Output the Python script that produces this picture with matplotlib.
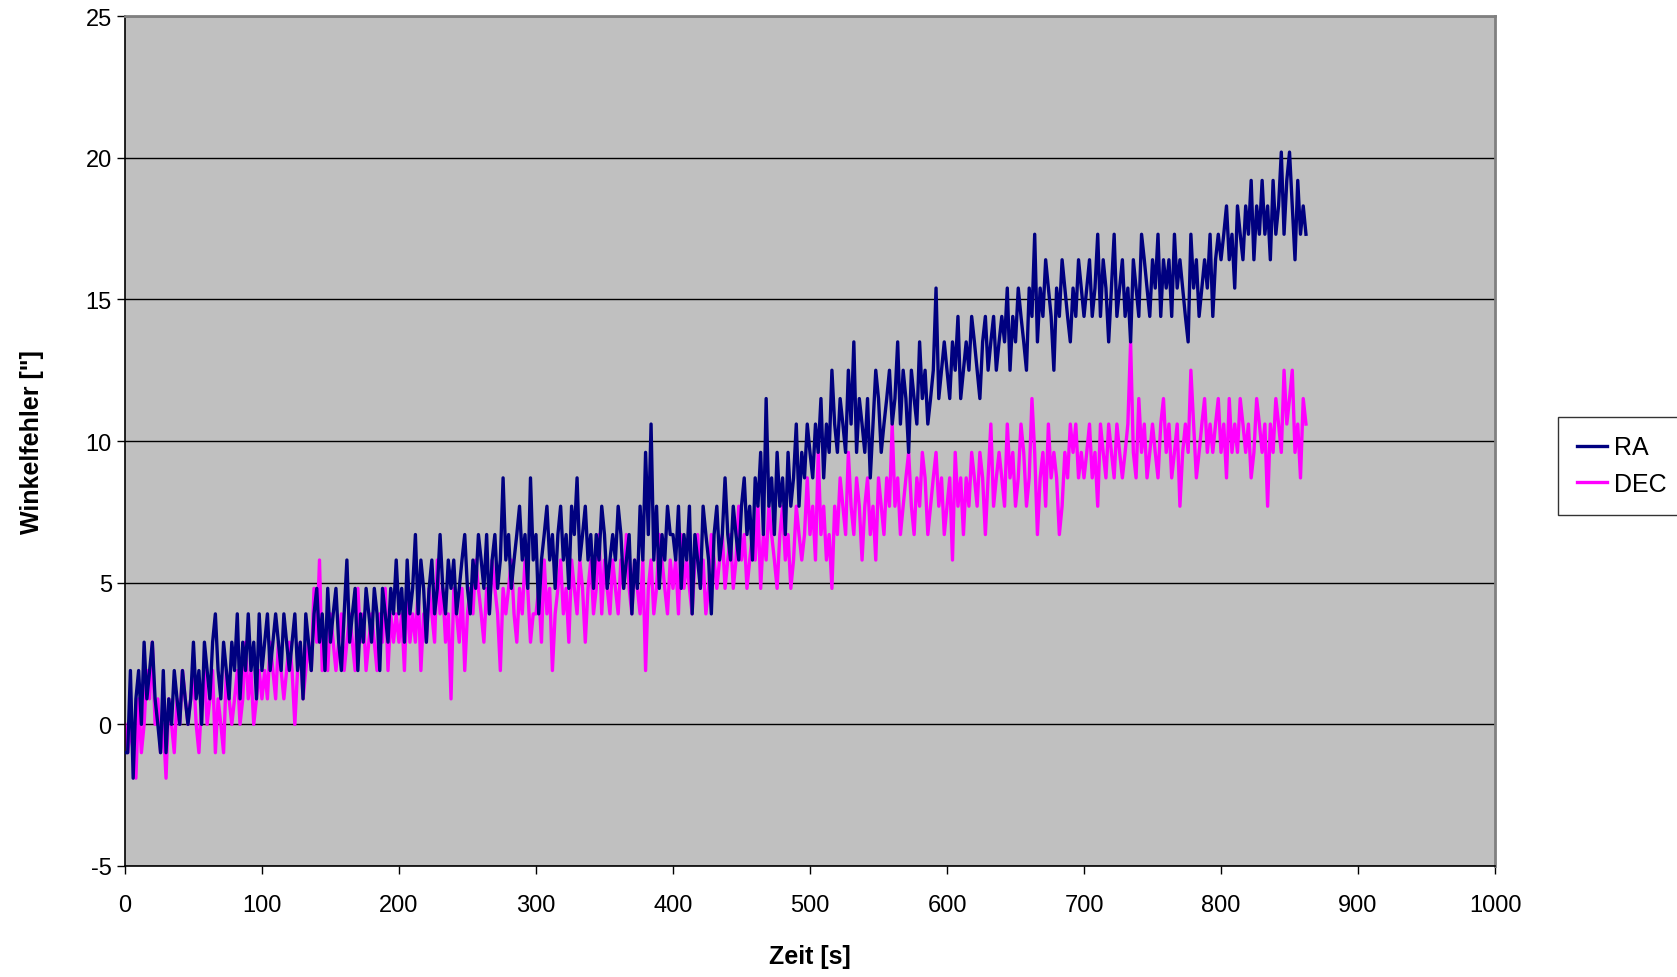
import numpy as np
import matplotlib.pyplot as plt

zeit = np.arange(0, 863, 2)

# RA winkelfehler ["], je 100 s ein block
ra_000 = [-1.0, -1.0, 1.9, -1.9, 0.9, 1.9, 0.0, 2.9, 0.9, 1.9,
          2.9, 0.9, 0.0, -1.0, 1.9, -1.0, 0.9, 0.0, 1.9, 0.9,
          0.0, 1.9, 0.9, 0.0, 0.9, 2.9, 0.9, 1.9, 0.0, 2.9,
          1.9, 0.9, 2.9, 3.9, 1.9, 0.9, 2.9, 1.9, 0.9, 2.9,
          1.9, 3.9, 0.9, 2.9, 1.9, 3.9, 1.9, 2.9, 0.9, 3.9]
ra_100 = [1.9, 2.9, 3.9, 1.9, 2.9, 3.9, 2.9, 1.9, 3.9, 2.9,
          1.9, 2.9, 3.9, 1.9, 2.9, 0.9, 3.9, 2.9, 1.9, 3.9,
          4.8, 2.9, 3.9, 1.9, 4.8, 2.9, 3.9, 4.8, 2.9, 1.9,
          3.9, 5.8, 2.9, 3.9, 4.8, 1.9, 3.9, 2.9, 4.8, 3.9,
          2.9, 4.8, 3.9, 1.9, 4.8, 3.9, 2.9, 4.8, 3.9, 5.8]
ra_200 = [3.9, 4.8, 2.9, 5.8, 3.9, 4.8, 6.7, 3.9, 5.8, 4.8,
          2.9, 4.8, 5.8, 3.9, 4.8, 6.7, 4.8, 3.9, 5.8, 4.8,
          5.8, 3.9, 4.8, 5.8, 6.7, 4.8, 3.9, 5.8, 4.8, 6.7,
          5.8, 4.8, 6.7, 3.9, 5.8, 6.7, 4.8, 5.8, 8.7, 5.8,
          6.7, 4.8, 5.8, 6.7, 7.7, 5.8, 6.7, 4.8, 8.7, 5.8]
ra_300 = [6.7, 3.9, 5.8, 6.7, 7.7, 5.8, 6.7, 4.8, 6.7, 7.7,
          5.8, 6.7, 4.8, 7.7, 6.7, 8.7, 5.8, 6.7, 7.7, 5.8,
          6.7, 4.8, 6.7, 5.8, 7.7, 6.7, 4.8, 5.8, 6.7, 5.8,
          7.7, 6.7, 4.8, 5.8, 6.7, 3.9, 5.8, 4.8, 7.7, 5.8,
          9.6, 6.7, 10.6, 5.8, 7.7, 4.8, 6.7, 5.8, 7.7, 6.7]
ra_400 = [6.7, 5.8, 7.7, 4.8, 6.7, 5.8, 7.7, 3.9, 6.7, 5.8,
          4.8, 7.7, 6.7, 5.8, 3.9, 6.7, 7.7, 5.8, 6.7, 8.7,
          6.7, 5.8, 7.7, 6.7, 5.8, 7.7, 8.7, 6.7, 7.7, 5.8,
          8.7, 7.7, 9.6, 6.7, 11.5, 7.7, 8.7, 6.7, 9.6, 7.7,
          8.7, 6.7, 9.6, 7.7, 8.7, 10.6, 7.7, 9.6, 8.7, 10.6]
ra_500 = [9.6, 8.7, 10.6, 9.6, 11.5, 8.7, 10.6, 9.6, 12.5, 10.6,
          9.6, 11.5, 10.6, 9.6, 12.5, 10.6, 13.5, 9.6, 11.5, 10.6,
          9.6, 11.5, 8.7, 10.6, 12.5, 11.5, 9.6, 10.6, 11.5, 12.5,
          10.6, 11.5, 13.5, 10.6, 12.5, 11.5, 9.6, 12.5, 11.5, 10.6,
          13.5, 11.5, 12.5, 10.6, 11.5, 12.5, 15.4, 11.5, 12.5, 13.5]
ra_600 = [12.5, 11.5, 13.5, 12.5, 14.4, 11.5, 12.5, 13.5, 12.5, 14.4,
          13.5, 12.5, 11.5, 13.5, 14.4, 12.5, 13.5, 14.4, 12.5, 13.5,
          14.4, 13.5, 15.4, 12.5, 14.4, 13.5, 15.4, 14.4, 13.5, 12.5,
          15.4, 14.4, 17.3, 13.5, 15.4, 14.4, 16.4, 15.4, 14.4, 12.5,
          15.4, 14.4, 16.4, 15.4, 14.4, 13.5, 15.4, 14.4, 16.4, 15.4]
ra_700 = [14.4, 15.4, 16.4, 14.4, 15.4, 17.3, 14.4, 16.4, 15.4, 13.5,
          15.4, 17.3, 14.4, 15.4, 16.4, 14.4, 15.4, 13.5, 16.4, 15.4,
          14.4, 17.3, 16.4, 15.4, 14.4, 16.4, 15.4, 17.3, 14.4, 16.4,
          15.4, 16.4, 14.4, 17.3, 15.4, 16.4, 15.4, 14.4, 13.5, 17.3,
          15.4, 16.4, 14.4, 15.4, 16.4, 15.4, 17.3, 14.4, 16.4, 17.3]
ra_800 = [16.4, 17.3, 18.3, 16.4, 17.3, 15.4, 18.3, 17.3, 16.4, 18.3,
          17.3, 19.2, 16.4, 18.3, 17.3, 19.2, 17.3, 18.3, 16.4, 19.2,
          17.3, 18.3, 20.2, 17.3, 19.2, 20.2, 18.3, 16.4, 19.2, 17.3,
          18.3, 17.3]

# DEC winkelfehler ["]
dec_000 = [0.0, -1.0, 0.0, -1.0, -1.9, 0.9, -1.0, 0.0, 1.9, 0.9,
           2.9, 0.0, 0.9, -1.0, 0.0, -1.9, 0.9, 0.0, -1.0, 0.9,
           0.0, 1.9, 0.9, 0.0, 0.9, 1.9, 0.0, -1.0, 0.9, 1.9,
           0.0, 0.9, 1.9, -1.0, 0.9, 0.0, -1.0, 1.9, 0.9, 0.0,
           0.9, 1.9, 0.0, 0.9, 2.9, 0.9, 1.9, 0.0, 0.9, 1.9]
dec_100 = [0.9, 1.9, 0.9, 2.9, 1.9, 0.9, 2.9, 1.9, 0.9, 1.9,
           2.9, 1.9, 0.0, 1.9, 2.9, 0.9, 1.9, 2.9, 1.9, 4.8,
           2.9, 5.8, 1.9, 2.9, 1.9, 3.9, 2.9, 1.9, 2.9, 3.9,
           1.9, 2.9, 3.9, 2.9, 1.9, 4.8, 2.9, 3.9, 1.9, 2.9,
           3.9, 2.9, 1.9, 3.9, 2.9, 4.8, 1.9, 3.9, 2.9, 3.9]
dec_200 = [2.9, 3.9, 1.9, 4.8, 2.9, 3.9, 2.9, 4.8, 1.9, 3.9,
           2.9, 4.8, 3.9, 2.9, 5.8, 3.9, 4.8, 2.9, 3.9, 0.9,
           4.8, 3.9, 2.9, 4.8, 1.9, 3.9, 4.8, 3.9, 5.8, 4.8,
           3.9, 2.9, 4.8, 3.9, 5.8, 4.8, 3.9, 1.9, 4.8, 3.9,
           4.8, 5.8, 3.9, 2.9, 4.8, 3.9, 5.8, 4.8, 2.9, 3.9]
dec_300 = [3.9, 4.8, 2.9, 5.8, 3.9, 4.8, 1.9, 3.9, 4.8, 5.8,
           3.9, 4.8, 2.9, 5.8, 4.8, 3.9, 5.8, 4.8, 2.9, 4.8,
           5.8, 3.9, 4.8, 6.7, 3.9, 5.8, 4.8, 3.9, 5.8, 4.8,
           3.9, 5.8, 4.8, 6.7, 4.8, 3.9, 5.8, 4.8, 3.9, 5.8,
           1.9, 4.8, 5.8, 3.9, 4.8, 6.7, 5.8, 4.8, 3.9, 5.8]
dec_400 = [4.8, 5.8, 3.9, 6.7, 4.8, 5.8, 4.8, 3.9, 5.8, 6.7,
           4.8, 5.8, 3.9, 4.8, 6.7, 5.8, 4.8, 5.8, 6.7, 4.8,
           5.8, 6.7, 4.8, 5.8, 7.7, 5.8, 6.7, 4.8, 5.8, 6.7,
           5.8, 7.7, 4.8, 6.7, 5.8, 7.7, 6.7, 5.8, 4.8, 6.7,
           7.7, 5.8, 6.7, 4.8, 5.8, 7.7, 6.7, 5.8, 6.7, 8.7]
dec_500 = [6.7, 7.7, 5.8, 9.6, 6.7, 7.7, 5.8, 6.7, 4.8, 7.7,
           6.7, 8.7, 7.7, 6.7, 9.6, 7.7, 6.7, 8.7, 7.7, 5.8,
           7.7, 8.7, 6.7, 7.7, 5.8, 8.7, 7.7, 6.7, 8.7, 7.7,
           10.6, 7.7, 8.7, 6.7, 7.7, 8.7, 9.6, 7.7, 6.7, 8.7,
           7.7, 9.6, 8.7, 6.7, 7.7, 8.7, 9.6, 7.7, 8.7, 6.7]
dec_600 = [7.7, 8.7, 5.8, 9.6, 7.7, 8.7, 6.7, 8.7, 7.7, 9.6,
           8.7, 7.7, 9.6, 8.7, 6.7, 8.7, 10.6, 7.7, 8.7, 9.6,
           8.7, 7.7, 10.6, 8.7, 9.6, 7.7, 8.7, 10.6, 9.6, 7.7,
           8.7, 11.5, 9.6, 6.7, 8.7, 9.6, 7.7, 10.6, 8.7, 9.6,
           8.7, 6.7, 7.7, 9.6, 8.7, 10.6, 9.6, 10.6, 8.7, 9.6]
dec_700 = [8.7, 9.6, 10.6, 8.7, 9.6, 7.7, 10.6, 9.6, 8.7, 10.6,
           9.6, 8.7, 10.6, 9.6, 8.7, 9.6, 10.6, 13.5, 9.6, 8.7,
           11.5, 9.6, 10.6, 8.7, 9.6, 10.6, 9.6, 8.7, 10.6, 11.5,
           9.6, 10.6, 8.7, 9.6, 10.6, 7.7, 9.6, 10.6, 9.6, 12.5,
           10.6, 8.7, 9.6, 10.6, 11.5, 9.6, 10.6, 9.6, 10.6, 11.5]
dec_800 = [9.6, 10.6, 8.7, 11.5, 9.6, 10.6, 9.6, 11.5, 10.6, 9.6,
           10.6, 8.7, 9.6, 11.5, 10.6, 9.6, 10.6, 7.7, 10.6, 9.6,
           11.5, 10.6, 9.6, 12.5, 10.6, 11.5, 12.5, 9.6, 10.6, 8.7,
           11.5, 10.6]

ra = ra_000 + ra_100 + ra_200 + ra_300 + ra_400 + ra_500 + ra_600 + ra_700 + ra_800
dec = dec_000 + dec_100 + dec_200 + dec_300 + dec_400 + dec_500 + dec_600 + dec_700 + dec_800

plt.rcParams['font.family'] = ['Liberation Sans', 'DejaVu Sans']
plt.rcParams['axes.unicode_minus'] = False

fig = plt.figure(figsize=(16.77, 9.78), dpi=100)
ax = fig.add_axes([0.0745, 0.1135, 0.817, 0.869])
ax.set_facecolor('#C0C0C0')

# gitterlinien
ax.yaxis.grid(True, color='black', linewidth=1.0)
ax.set_axisbelow(True)

ax.plot(zeit, ra, color='#000080', linewidth=2.4, label='RA', zorder=3)
ax.plot(zeit, dec, color='#FF00FF', linewidth=2.4, label='DEC', zorder=2)

ax.set_xlim(0, 1000)
ax.set_ylim(-5, 25)
ax.set_xticks(np.arange(0, 1001, 100))
ax.set_yticks(np.arange(-5, 26, 5))
ax.tick_params(direction='out', length=6, width=1, labelsize=17, colors='black')
ax.tick_params(axis='x', pad=14)

for s in ['top', 'right']:
    ax.spines[s].set_color('#808080')
    ax.spines[s].set_linewidth(2)
for s in ['left', 'bottom']:
    ax.spines[s].set_color('black')
    ax.spines[s].set_linewidth(1.2)

ax.set_xlabel('Zeit [s]', fontsize=18, fontweight='bold', labelpad=20)
ax.set_ylabel('Winkelfehler ["]', fontsize=18, fontweight='bold', labelpad=30)

leg = fig.legend(loc='center left', bbox_to_anchor=(0.929, 0.523), fontsize=18,
                 frameon=True, fancybox=False, edgecolor='black', handlelength=1.2,
                 handletextpad=0.3, borderpad=0.75, labelspacing=0.5, borderaxespad=0)
leg.get_frame().set_linewidth(1.0)

plt.savefig('out.png', dpi=100)
